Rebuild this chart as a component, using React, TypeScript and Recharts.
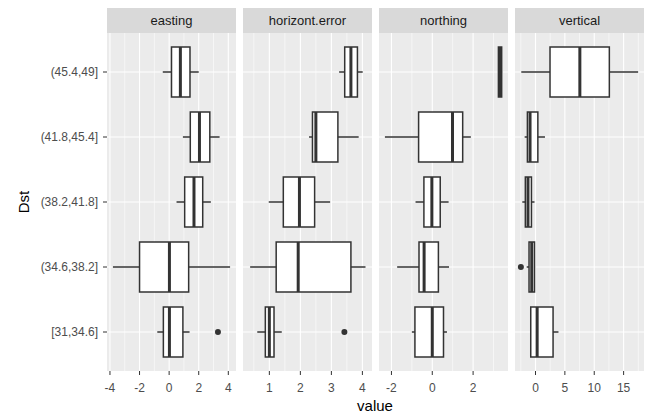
import React from 'react'
import {
  ComposedChart,
  CartesianGrid,
  XAxis,
  YAxis,
  ReferenceArea,
  ReferenceLine,
  Scatter,
} from 'recharts'

// Dst classes, bottom to top
const categories = ['[31,34.6]', '(34.6,38.2]', '(38.2,41.8]', '(41.8,45.4]', '(45.4,49]']

// [lower whisker, q1, median, q3, upper whisker] per class, bottom to top
const eastingStats = [
  [-0.8, -0.39, 0.02, 0.93, 1.38],
  [-3.8, -2.0, 0.02, 1.32, 4.12],
  [0.5, 1.05, 1.68, 2.27, 2.82],
  [0.93, 1.43, 2.05, 2.75, 3.41],
  [-0.43, 0.16, 0.76, 1.41, 2.0],
]
const horizontStats = [
  [0.61, 0.87, 1.0, 1.15, 1.4],
  [0.38, 1.22, 1.93, 3.63, 4.1],
  [0.98, 1.45, 1.97, 2.46, 2.96],
  [2.28, 2.39, 2.5, 3.21, 3.88],
  [3.25, 3.43, 3.63, 3.84, 4.01],
]
const northingStats = [
  [-1.0, -0.85, 0.0, 0.55, 0.72],
  [-1.72, -0.65, -0.4, 0.3, 0.82],
  [-0.82, -0.41, -0.02, 0.39, 0.8],
  [-2.32, -0.67, 0.99, 1.49, 1.89],
  [3.22, 3.24, 3.32, 3.4, 3.42],
]
const verticalStats = [
  [-0.81, -0.81, 0.28, 2.99, 3.91],
  [-1.5, -1.1, -0.64, -0.17, -0.17],
  [-2.25, -1.73, -1.28, -0.69, -0.17],
  [-1.85, -1.38, -0.93, 0.4, 1.61],
  [-2.42, 2.47, 7.55, 12.57, 17.47],
]

// outliers: [class index, value]
const eastingOutliers = [[0, 3.3]]
const horizontOutliers = [[0, 3.42]]
const northingOutliers: number[][] = []
const verticalOutliers = [[1, -2.49]]

// axis breaks
const eastingTicks = [-4, -2, 0, 2, 4]
const horizontTicks = [1, 2, 3, 4]
const northingTicks = [-2, 0, 2]
const verticalTicks = [0, 5, 10, 15]

const facets = [
  { title: 'easting', stats: eastingStats, outliers: eastingOutliers, ticks: eastingTicks, minor: [-3, -1, 1, 3], domain: [-4.2, 4.52] },
  { title: 'horizont.error', stats: horizontStats, outliers: horizontOutliers, ticks: horizontTicks, minor: [0.5, 1.5, 2.5, 3.5], domain: [0.15, 4.31] },
  { title: 'northing', stats: northingStats, outliers: northingOutliers, ticks: northingTicks, minor: [-1, 1, 3], domain: [-2.61, 3.71] },
  { title: 'vertical', stats: verticalStats, outliers: verticalOutliers, ticks: verticalTicks, minor: [-2.5, 2.5, 7.5, 12.5, 17.5], domain: [-3.49, 18.47] },
]

const PANEL_W = 129
const PANEL_GAP = 7
const Y_AXIS_W = 107
const TOP = 33
const CHART_H = 400
const HALF_BOX = 0.385
const BOX_STROKE = '#333333'

function Panel({ facet, first }: { facet: (typeof facets)[number]; first: boolean }) {
  const outlierData = facet.outliers.map(([c, v]) => ({ x: v, y: c + 1 }))
  return (
    <ComposedChart
      width={first ? Y_AXIS_W + PANEL_W : PANEL_W}
      height={CHART_H}
      layout="vertical"
      margin={{ top: TOP, right: 0, bottom: 0, left: 0 }}
    >
      <CartesianGrid
        fill="#EBEBEB"
        stroke="#FFFFFF"
        strokeWidth={1.1}
        horizontalValues={[1, 2, 3, 4, 5]}
        verticalValues={facet.ticks}
      />
      <CartesianGrid
        stroke="#FFFFFF"
        strokeWidth={0.55}
        horizontal={false}
        verticalValues={facet.minor}
      />
      <XAxis
        type="number"
        dataKey="x"
        domain={facet.domain}
        ticks={facet.ticks}
        interval={0}
        allowDataOverflow
        axisLine={false}
        tickLine={{ stroke: '#333333' }}
        tickSize={4}
        tickMargin={8}
        height={CHART_H - 371}
        tick={{ fill: '#4D4D4D', fontSize: 12 }}
      />
      <YAxis
        type="number"
        dataKey="y"
        domain={[0.4, 5.6]}
        ticks={[1, 2, 3, 4, 5]}
        interval={0}
        reversed
        allowDataOverflow
        hide={!first}
        width={first ? Y_AXIS_W : 0}
        axisLine={false}
        tickLine={{ stroke: '#333333' }}
        tickSize={4}
        tickMargin={5}
        tick={{ fill: '#4D4D4D', fontSize: 12 }}
        tickFormatter={(v: number) => categories[v - 1] ?? ''}
      />

      {facet.stats.map(([lo, q1, med, q3, hi], i) => (
        <ReferenceArea
          key={`box${i}`}
          x1={q1}
          x2={q3}
          y1={i + 1 - HALF_BOX}
          y2={i + 1 + HALF_BOX}
          fill="#FFFFFF"
          fillOpacity={1}
          stroke={BOX_STROKE}
          strokeWidth={1.5}
        />
      ))}
      {facet.stats.map(([lo, q1, med, q3, hi], i) => (
        <ReferenceLine
          key={`wl${i}`}
          segment={[{ x: lo, y: i + 1 }, { x: q1, y: i + 1 }]}
          stroke={BOX_STROKE}
          strokeWidth={1.5}
        />
      ))}
      {facet.stats.map(([lo, q1, med, q3, hi], i) => (
        <ReferenceLine
          key={`wh${i}`}
          segment={[{ x: q3, y: i + 1 }, { x: hi, y: i + 1 }]}
          stroke={BOX_STROKE}
          strokeWidth={1.5}
        />
      ))}
      {facet.stats.map(([lo, q1, med, q3, hi], i) => (
        <ReferenceLine
          key={`md${i}`}
          segment={[{ x: med, y: i + 1 - HALF_BOX }, { x: med, y: i + 1 + HALF_BOX }]}
          stroke={BOX_STROKE}
          strokeWidth={3}
        />
      ))}
      <Scatter
        data={outlierData}
        isAnimationActive={false}
        shape={(p: any) => <circle cx={p.cx} cy={p.cy} r={3} fill="#333333" />}
      />
    </ComposedChart>
  )
}

export default function App() {
  return (
    <div
      style={{
        position: 'absolute',
        left: 0,
        top: 0,
        width: 651,
        height: 416,
        background: '#FFFFFF',
        fontFamily: '"Liberation Sans", Arial, sans-serif',
        overflow: 'hidden',
      }}
    >
      {facets.map((f, i) => {
        const panelLeft = Y_AXIS_W + i * (PANEL_W + PANEL_GAP)
        return (
          <React.Fragment key={f.title}>
            <div
              style={{
                position: 'absolute',
                left: i === 0 ? 0 : panelLeft,
                top: 0,
              }}
            >
              <Panel facet={f} first={i === 0} />
            </div>
            <div
              style={{
                position: 'absolute',
                left: panelLeft,
                top: 8,
                width: PANEL_W,
                height: 25,
                lineHeight: '25px',
                background: '#D9D9D9',
                color: '#1A1A1A',
                fontSize: 13,
                textAlign: 'center',
              }}
            >
              {f.title}
            </div>
          </React.Fragment>
        )
      })}
      <div
        style={{
          position: 'absolute',
          left: 23,
          top: 202,
          transform: 'translate(-50%, -50%) rotate(-90deg)',
          fontSize: 15,
          color: '#000000',
        }}
      >
        Dst
      </div>
      <div
        style={{
          position: 'absolute',
          left: 375,
          top: 405,
          transform: 'translate(-50%, -50%)',
          fontSize: 15,
          color: '#000000',
        }}
      >
        value
      </div>
    </div>
  )
}
